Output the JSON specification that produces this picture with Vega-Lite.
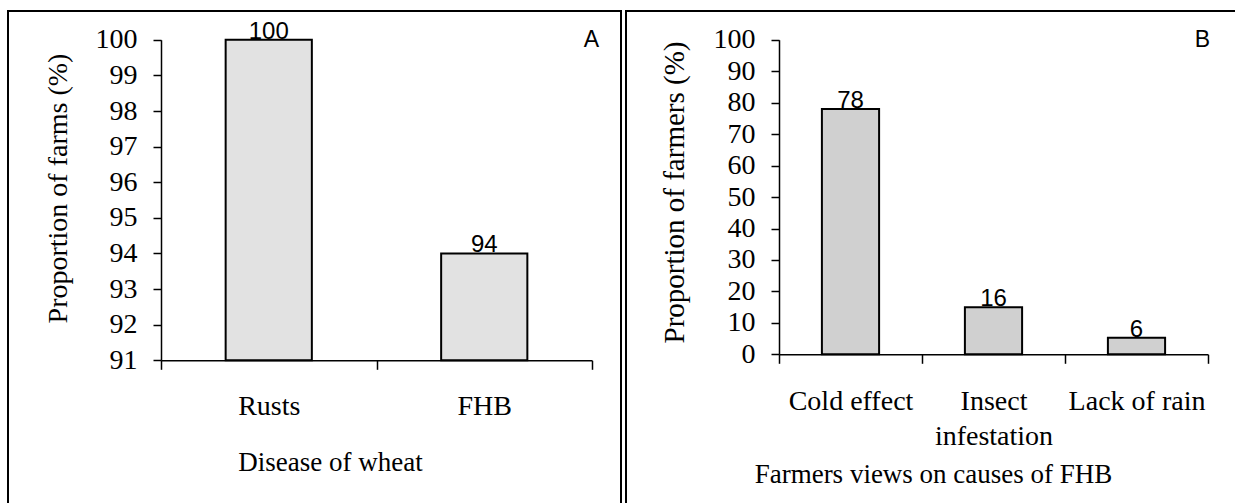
{
  "$schema": "https://vega.github.io/schema/vega-lite/v6.json",
  "background": "white",
  "padding": {"left": 7, "top": 10, "right": 0, "bottom": 0},
  "bounds": "flush",
  "spacing": 5,
  "config": {
    "font": "Liberation Serif",
    "axis": {
      "domainColor": "black", "domainWidth": 1.5,
      "tickColor": "black", "tickWidth": 1.5,
      "labelColor": "black", "labelFont": "Liberation Serif", "labelFontSize": 28,
      "titleFont": "Liberation Serif", "titleFontSize": 27, "titleFontWeight": "normal", "titleColor": "black",
      "grid": false, "labelOverlap": false, "labelFlush": false
    }
  },
  "hconcat": [
    {
      "width": 613, "height": 500,
      "view": {"stroke": "black", "strokeWidth": 2, "fill": "white"},
      "title": {"text": "A", "anchor": "end", "frame": "group", "font": "Liberation Sans", "fontSize": 23, "fontWeight": "normal", "color": "black", "offset": -39, "dx": -22, "dy": 20, "baseline": "alphabetic"},
      "data": {"values": [
        {"disease": "Rusts", "value": 100, "label": "100"},
        {"disease": "FHB", "value": 94, "label": "94"}
      ]},
      "encoding": {
        "x": {"field": "disease", "type": "nominal", "sort": null,
          "scale": {"range": [153, 584], "paddingInner": 0, "paddingOuter": 0},
          "axis": {"title": "Disease of wheat", "orient": "bottom", "offset": -150.7, "tickBand": "extent", "labelAngle": 0, "tickSize": 9, "labelPadding": 23,
            "titleX": 322, "titleY": 102, "titleBaseline": "middle", "titleAlign": "center"}},
        "y": {"field": "value", "type": "quantitative",
          "scale": {"domain": [91, 100], "range": [349.3, 28.8], "zero": false, "nice": false},
          "axis": {"title": "Proportion of farms (%)", "values": [91, 92, 93, 94, 95, 96, 97, 98, 99, 100], "offset": -153, "tickSize": 8, "labelPadding": 16,
            "titleFontSize": 28, "titleX": -102.5, "titleY": 177, "titleBaseline": "middle", "titleAlign": "center", "titleAngle": -90}}
      },
      "layer": [
        {"mark": {"type": "bar", "fill": "#e2e2e2", "stroke": "black", "strokeWidth": 2, "width": {"band": 0.4}},
         "encoding": {"y2": {"datum": 91}}},
        {"mark": {"type": "text", "font": "Liberation Sans", "fontSize": 24, "baseline": "alphabetic", "dy": -1, "color": "black"},
         "encoding": {"text": {"field": "label"}}}
      ]
    },
    {
      "width": 619, "height": 500,
      "view": {"stroke": "black", "strokeWidth": 2, "fill": "white"},
      "title": {"text": "B", "anchor": "end", "frame": "group", "font": "Liberation Sans", "fontSize": 23, "fontWeight": "normal", "color": "black", "offset": -39, "dx": -35, "dy": 20, "baseline": "alphabetic"},
      "data": {"values": [
        {"cause": "Cold effect", "value": 78, "label": "78"},
        {"cause": "Insect infestation", "value": 15, "label": "16"},
        {"cause": "Lack of rain", "value": 5.3, "label": "6"}
      ]},
      "encoding": {
        "x": {"field": "cause", "type": "nominal", "sort": null,
          "scale": {"range": [153, 582], "paddingInner": 0, "paddingOuter": 0},
          "axis": {"title": "Farmers views on causes of FHB", "orient": "bottom", "offset": -156.7, "tickBand": "extent", "labelAngle": 0, "tickSize": 9, "labelPadding": 24,
            "labelExpr": "datum.value == 'Insect infestation' ? ['Insect', 'infestation'] : datum.label", "labelLineHeight": 35,
            "titleX": 307, "titleY": 120, "titleBaseline": "middle", "titleAlign": "center"}},
        "y": {"field": "value", "type": "quantitative",
          "scale": {"domain": [0, 100], "range": [343.3, 28.8], "nice": false},
          "axis": {"title": "Proportion of farmers (%)", "values": [0, 10, 20, 30, 40, 50, 60, 70, 80, 90, 100], "offset": -153, "tickSize": 8, "labelPadding": 16,
            "titleFontSize": 29, "titleX": -105, "titleY": 181, "titleBaseline": "middle", "titleAlign": "center", "titleAngle": -90}}
      },
      "layer": [
        {"mark": {"type": "bar", "fill": "#d0d0d0", "stroke": "black", "strokeWidth": 2, "width": {"band": 0.4}},
         "encoding": {"y2": {"datum": 0}}},
        {"mark": {"type": "text", "font": "Liberation Sans", "fontSize": 24, "baseline": "alphabetic", "dy": -1, "color": "black"},
         "encoding": {"text": {"field": "label"}}}
      ]
    }
  ]
}
